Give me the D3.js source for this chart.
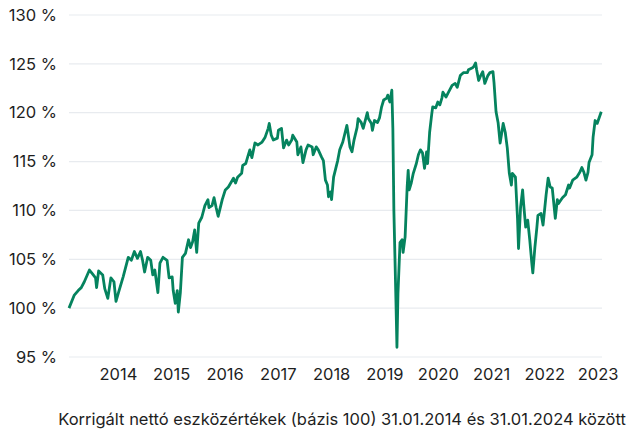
<!DOCTYPE html>
<html>
<head>
<meta charset="utf-8">
<script src="https://cdn.jsdelivr.net/npm/d3@7"></script>
<style>
    body { margin: 0; background: #fff; }
    svg { display: block; }
    .axis text { font-family: Inter, "Noto Sans", sans-serif; font-size: 16.5px; fill: #1e1e1e; }
    .axis path, .axis line { display: none; }
    .grid line { stroke: #e8ebef; stroke-width: 1.2; }
    .caption { font-family: Inter, "Noto Sans", sans-serif; font-size: 16.5px; fill: #1e1e1e; }
</style>
</head>
<body>
<script>
// weekly NAV, week 0 = 31.01.2014
let startDate = new Date(2014, 0, 31);
let endDate = new Date(2024, 0, 31);

let weeks = [0, 5, 9, 12, 15, 20, 23, 26, 27, 29, 33, 35, 38, 41, 44, 46, 49, 53, 58, 61, 64, 67, 70, 72, 74, 77, 80, 82,
    84, 87, 89, 92, 96, 98, 101, 102, 104, 106, 107, 109, 111, 114, 117, 119, 121, 123, 125, 127, 130, 133, 136, 137, 140, 142, 144, 146, 150, 153, 156, 161, 163, 165, 169, 170, 173,
    175, 177, 179, 182, 185, 189, 192, 195, 196, 198, 200, 204, 205, 208, 209, 210, 213, 215, 218, 219, 223, 224, 227, 229, 232, 234, 238, 239, 242, 244, 247, 249, 251, 253, 254, 256, 257, 259,
    263, 265, 268, 272, 273, 275, 277, 279, 282, 283, 286, 288, 292, 293, 296, 297, 299, 302, 304, 306, 308, 311, 312, 314, 316, 317, 318, 320, 321, 322, 324, 326, 327, 329, 331, 332, 333, 335, 337, 340, 342, 344, 346, 348,
    350, 351, 353, 355, 356, 359, 361, 363, 365, 366, 369, 371, 375, 378, 380, 383, 386, 390, 391, 395, 396, 398, 399, 401, 403, 405, 407, 410, 412, 415, 416, 418, 420, 422, 424, 425, 427, 429, 431, 433, 434, 437,
    439, 440, 442, 444, 445, 447, 449, 451, 453, 454, 456, 458, 459, 462, 464, 467, 469, 471, 473, 476, 478, 479, 483, 486, 489, 490, 493, 497, 500, 502, 504, 506, 508, 509, 512, 513, 515, 517, 518, 521];

let values = [100.0, 101.3, 101.8, 102.1, 102.7, 103.9, 103.5, 103.1, 102.1, 103.8, 103.4, 102.0, 101.0, 103.1, 102.7, 100.7, 101.8, 103.2, 105.2, 104.9, 105.8, 105.1, 105.8, 104.9, 103.7, 105.2, 104.9, 103.4,
    103.9, 101.6, 104.6, 105.2, 104.9, 103.1, 103.2, 101.8, 100.5, 101.8, 99.6, 101.6, 105.2, 105.6, 107.0, 106.2, 106.8, 108.0, 105.7, 108.7, 109.3, 110.5, 111.1, 110.3, 110.5, 111.3, 110.3, 109.4, 111.1, 112.1, 112.4, 113.3, 112.8, 113.4, 113.8, 114.6, 114.8,
    115.5, 116.2, 115.4, 116.9, 116.7, 117.0, 117.5, 118.4, 118.9, 117.7, 117.2, 117.4, 118.2, 118.4, 117.4, 116.4, 117.2, 116.7, 117.2, 117.7, 117.0, 115.7, 116.5, 114.9, 116.2, 116.7, 116.5, 115.7, 116.5, 116.2, 115.5, 115.1, 113.1, 112.6, 111.4, 111.9, 111.1, 113.4,
    115.1, 116.2, 117.0, 118.7, 118.0, 116.5, 116.0, 117.2, 118.5, 119.4, 119.0, 118.4, 120.0, 119.4, 118.9, 118.2, 119.2, 119.0, 119.5, 120.6, 121.3, 121.5, 121.8, 121.1, 122.3, 118.4, 110.0, 100.8, 96.0, 101.5, 106.7, 107.0, 105.7, 107.3, 112.4, 114.1, 112.1, 112.8, 113.8, 114.8, 115.7, 116.2, 115.9, 114.3,
    116.0, 114.8, 118.0, 119.8, 120.6, 120.5, 121.1, 120.8, 121.5, 122.1, 121.6, 122.0, 122.8, 123.0, 122.6, 123.8, 124.1, 124.1, 124.4, 124.6, 124.7, 125.1, 124.4, 123.3, 123.8, 124.2, 123.0, 123.8, 124.1, 124.2, 123.1, 120.1, 119.0, 116.9, 118.2, 118.9, 118.0, 116.4, 113.8, 112.6, 113.8, 113.4,
    109.2, 106.1, 110.3, 112.1, 110.7, 108.3, 109.0, 107.0, 104.6, 103.6, 106.2, 108.3, 109.5, 109.7, 108.5, 111.6, 113.3, 112.4, 112.3, 109.2, 111.1, 110.7, 111.3, 111.6, 112.6, 112.3, 113.1, 113.4, 113.9, 114.4, 113.9, 113.1, 113.9, 114.9, 115.7, 117.5, 119.2, 118.9, 119.2, 120.1];

let yTicks = [95, 100, 105, 110, 115, 120, 125, 130];
let yearLabels = [2014, 2015, 2016, 2017, 2018, 2019, 2020, 2021, 2022, 2023];
let caption = "Korrigált nettó eszközértékek (bázis 100) 31.01.2014 és 31.01.2024 között";

let data = weeks.map((w, i) => ({ date: d3.timeDay.offset(startDate, w * 7), value: values[i] }));

let width = 628;
let height = 429;
let margin = { left: 69, right: 26, top: 15, bottom: 72 };

let x = d3.scaleTime()
    .domain([startDate, endDate])
    .range([margin.left, width - margin.right]);
let y = d3.scaleLinear()
    .domain([95, 130])
    .range([height - margin.bottom, margin.top]);

let svg = d3.select("body").append("svg").attr("width", width).attr("height", height);

svg.append("g").attr("class", "grid")
    .selectAll("line")
    .data(yTicks)
    .join("line")
    .attr("x1", x.range()[0]).attr("x2", x.range()[1])
    .attr("y1", (d) => y(d)).attr("y2", (d) => y(d));

let yAxis = d3.axisLeft(y).tickValues(yTicks).tickSize(0).tickPadding(12).tickFormat((d) => `${d} %`);
svg.append("g").attr("class", "y axis")
    .attr("transform", `translate(${margin.left},0)`)
    .call(yAxis);

// year labels sit on the following 1 January
let xAxis = d3.axisBottom(x)
    .tickValues(yearLabels.map((yr) => new Date(yr + 1, 0, 1)))
    .tickFormat((d, i) => yearLabels[i])
    .tickSize(0).tickPadding(11);
svg.append("g").attr("class", "x axis")
    .attr("transform", `translate(0,${y(95)})`)
    .call(xAxis);

let line = d3.line()
    .x((d) => x(d.date))
    .y((d) => y(d.value));

svg.append("path")
    .attr("d", line(data))
    .attr("fill", "none")
    .attr("stroke", "#05835e")
    .attr("stroke-width", 2.8)
    .attr("stroke-linejoin", "round");

svg.append("text").attr("class", "caption")
    .attr("x", 342).attr("y", 425)
    .attr("text-anchor", "middle")
    .text(caption);
</script>
</body>
</html>
